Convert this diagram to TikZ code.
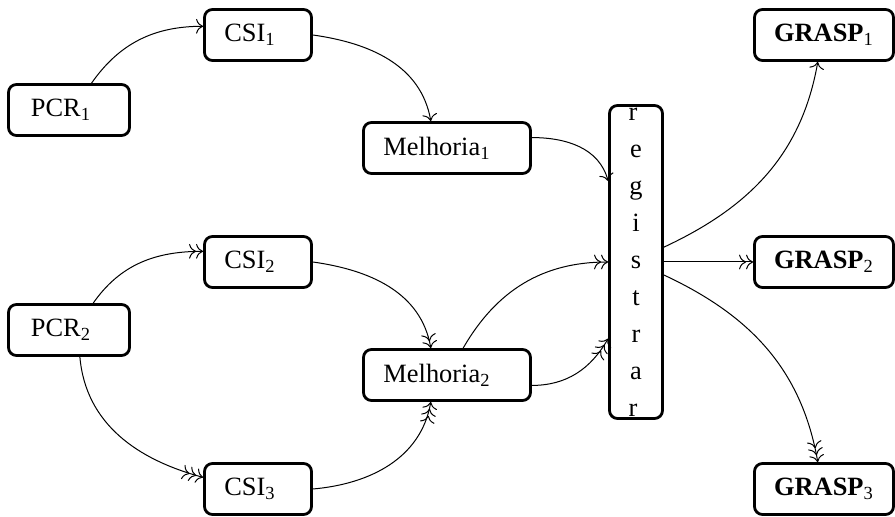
\documentclass[tikz,border=0pt]{standalone}
\usepackage{fontspec}
\setmainfont{Liberation Serif}
\usetikzlibrary{arrows.meta}
\begin{document}
\begin{tikzpicture}[x=0.5pt,y=0.5pt,>={To[scale=1.3]},
  box/.style={draw, line width=1.4pt, rounded corners=4pt, inner sep=0pt,
    font=\fontsize{13.2}{15.6}\selectfont, minimum height=25.5pt},
  conn/.style={line width=0.5pt}]
\useasboundingbox (0,0) rectangle (895,-517);
\node[box, minimum width=60.5pt] (PCR1) at (69,-110) {PCR\textsubscript{1}\hspace*{8pt}};
\node[box, minimum width=53.5pt] (CSI1) at (258,-35) {CSI\textsubscript{1}\hspace*{8pt}};
\node[box, minimum width=83.5pt] (M1) at (447,-148) {Melhoria\textsubscript{1}\hspace*{10pt}};
\node[box, minimum width=60.5pt] (PCR2) at (69,-330) {PCR\textsubscript{2}\hspace*{8pt}};
\node[box, minimum width=53.5pt] (CSI2) at (258,-262) {CSI\textsubscript{2}\hspace*{8pt}};
\node[box, minimum width=53.5pt] (CSI3) at (258,-489) {CSI\textsubscript{3}\hspace*{8pt}};
\node[box, minimum width=83.5pt] (M2) at (447,-375) {Melhoria\textsubscript{2}\hspace*{10pt}};
\node[box, minimum width=26.5pt, minimum height=156.5pt, align=center,
  font=\fontsize{13.2}{18.5}\selectfont] (R) at (636,-262) {r\hspace*{3pt}\\e\hspace*{3pt}\\g\hspace*{3pt}\\i\hspace*{3pt}\\s\hspace*{3pt}\\t\hspace*{3pt}\\r\hspace*{3pt}\\a\hspace*{3pt}\\r\hspace*{3pt}};
\node[box, minimum width=69.5pt] (G1) at (824,-35) {\textbf{GRASP}\textsubscript{1}};
\node[box, minimum width=69.5pt] (G2) at (824,-262) {\textbf{GRASP}\textsubscript{2}};
\node[box, minimum width=69.5pt] (G3) at (824,-489) {\textbf{GRASP}\textsubscript{3}};

\draw[conn,->] (PCR1.50) to[out=55,in=180] (CSI1.171);
\draw[conn,->] (CSI1.east) to[out=-8,in=100] (M1.121);
\draw[conn,->] (M1.7) to[out=0,in=105] (R.109.5);
\draw[conn,->>] (PCR2.48) to[out=55,in=180] (CSI2.169);
\draw[conn,->>>] (PCR2.-68) to[out=-85,in=165] (CSI3.168);
\draw[conn,->>] (CSI2.east) to[out=-8,in=100] (M2.121);
\draw[conn,->>>] (CSI3.east) to[out=5,in=-100] (M2.-121);
\draw[conn,->>] (M2.59) to[out=60,in=180] (R.west);
\draw[conn,->>>] (M2.-7) to[out=0,in=-120] (R.250);
\draw[conn,->] (R.28) to[out=25,in=-100] (G1.257);
\draw[conn,->>] (R.east) -- (G2.west);
\draw[conn,->>>] (R.-25) to[out=-25,in=100] (G3.103);
\end{tikzpicture}
\end{document}
